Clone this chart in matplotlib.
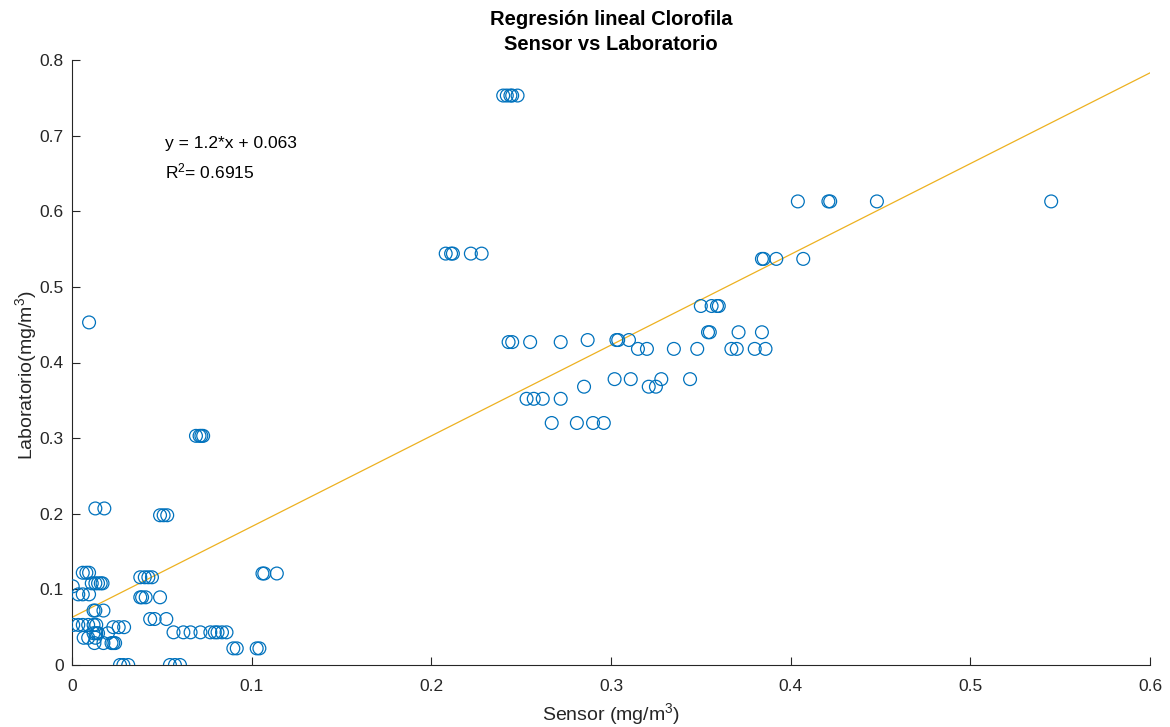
import numpy as np
import matplotlib
matplotlib.use("Agg")
import matplotlib.pyplot as plt
from matplotlib.ticker import FuncFormatter

plt.rcParams['font.family'] = ['Liberation Sans', 'DejaVu Sans']
plt.rcParams['mathtext.default'] = 'regular'

# ---- data ----
sensor = [
    0.240, 0.242, 0.244, 0.245, 0.248,
    0.404, 0.421, 0.422, 0.448, 0.545,
    0.384, 0.385, 0.392, 0.407,
    0.208, 0.211, 0.212, 0.222, 0.228,
    0.0095,
    0.350, 0.356, 0.359, 0.360,
    0.354, 0.355, 0.371, 0.384,
    0.287, 0.303, 0.304, 0.310,
    0.243, 0.245, 0.255, 0.272,
    0.315, 0.320, 0.335, 0.348, 0.367, 0.370, 0.380, 0.386,
    0.302, 0.311, 0.328, 0.344,
    0.285, 0.321, 0.325,
    0.253, 0.257, 0.262, 0.272,
    0.267, 0.281, 0.290, 0.296,
    0.069, 0.071, 0.072, 0.073,
    0.013, 0.018,
    0.049, 0.051, 0.053,
    0.106, 0.107, 0.114,
    0.006, 0.008, 0.0095,
    0.038, 0.0405, 0.0425, 0.0445,
    0.011, 0.013, 0.0145, 0.016, 0.017,
    0.0004,
    0.0035, 0.006, 0.0095,
    0.038, 0.039, 0.041, 0.049,
    0.012, 0.013, 0.0175,
    0.0435, 0.046, 0.0525,
    0.0007, 0.0035, 0.006, 0.009, 0.012, 0.0135,
    0.023, 0.026, 0.029,
    0.0565, 0.062, 0.066, 0.0715, 0.077, 0.0795, 0.081, 0.0835, 0.086,
    0.012, 0.0135, 0.0145, 0.020,
    0.0065, 0.009, 0.013,
    0.0125, 0.0175, 0.022, 0.023, 0.024,
    0.0898, 0.0917, 0.1028, 0.1043,
    0.0267, 0.0286, 0.0313, 0.0545, 0.0573, 0.0601,
]
laboratorio = (
    [0.753] * 5 + [0.613] * 5 + [0.537] * 4 + [0.544] * 5 + [0.453] +
    [0.4747] * 4 + [0.440] * 4 + [0.4297] * 4 + [0.427] * 4 + [0.418] * 8 +
    [0.378] * 4 + [0.368] * 3 + [0.352] * 4 + [0.320] * 4 + [0.303] * 4 +
    [0.207] * 2 + [0.198] * 3 + [0.121] * 3 + [0.122] * 3 + [0.116] * 4 +
    [0.108] * 5 + [0.104] + [0.0934] * 3 + [0.0895] * 4 + [0.072] * 3 +
    [0.0608] * 3 + [0.053] * 6 + [0.050] * 3 + [0.0432] * 9 + [0.042] * 4 +
    [0.036] * 3 + [0.029] * 5 + [0.022] * 4 + [0.0] * 6
)
slope, intercept = 1.2, 0.063
r2 = 0.6915
x_ticks = [0, 0.1, 0.2, 0.3, 0.4, 0.5, 0.6]
y_ticks = [0, 0.1, 0.2, 0.3, 0.4, 0.5, 0.6, 0.7, 0.8]

fig = plt.figure(figsize=(11.7, 7.27), dpi=100)
ax = fig.add_axes([72 / 1170, 62 / 727, 1078 / 1170, 605 / 727])

ax.scatter(sensor, laboratorio, s=85, facecolors='none', edgecolors='#0072BD',
           linewidths=0.9, zorder=3)
xl = np.array([x_ticks[0], x_ticks[-1]])
ax.plot(xl, slope * xl + intercept, color='#EDB120', linewidth=0.9, zorder=2)

ax.set_xlim(x_ticks[0], x_ticks[-1])
ax.set_ylim(y_ticks[0], y_ticks[-1])
ax.set_xticks(x_ticks)
ax.set_yticks(y_ticks)
fmt = FuncFormatter(lambda v, p: '%g' % round(v, 3))
ax.xaxis.set_major_formatter(fmt)
ax.yaxis.set_major_formatter(fmt)
ax.tick_params(direction='in', length=6, width=0.8, colors='#262626',
               labelsize=12.5, pad=6)
ax.tick_params(axis='x', pad=10)
for s in ['top', 'right']:
    ax.spines[s].set_visible(False)
for s in ['left', 'bottom']:
    ax.spines[s].set_color('#262626')
    ax.spines[s].set_linewidth(0.8)

ax.set_xlabel('Sensor (mg/m$^{3}$)', fontsize=14, color='#262626', labelpad=5)
ax.set_ylabel('Laboratorio(mg/m$^{3}$)', fontsize=14, color='#262626')
ax.yaxis.set_label_coords(-0.031, 0.479)
ax.set_title('Regresión lineal Clorofila\nSensor vs Laboratorio', fontsize=14.5,
             fontweight='bold', color='black', pad=7, linespacing=1.45)

ax.text(0.0518, 0.689, 'y = %g*x + %g' % (slope, intercept), fontsize=12.5,
        va='center', ha='left', color='black')
ax.text(0.0518, 0.653, 'R$^{2}$= %g' % r2, fontsize=12.5, va='center',
        ha='left', color='black')

fig.savefig('out.png', dpi=100)
